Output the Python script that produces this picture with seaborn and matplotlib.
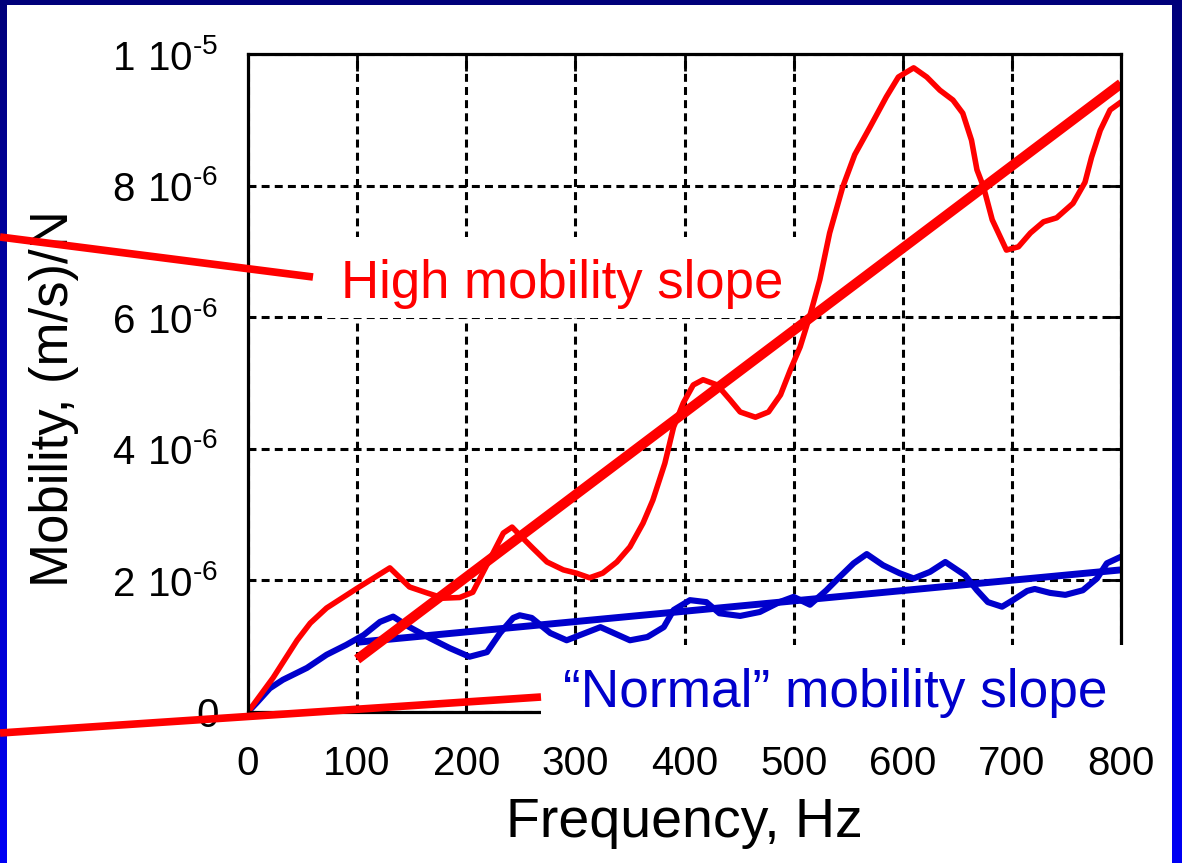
import numpy as np
import pandas as pd
import matplotlib
matplotlib.use("Agg")
import matplotlib.pyplot as plt
from matplotlib.patches import Rectangle
from matplotlib.lines import Line2D
import seaborn as sns

# measured mobility, frequency in Hz, mobility in 1e-6 (m/s)/N
high_freq = [0, 23, 45, 57, 72, 100, 130, 148, 164, 179, 194, 206, 215, 225,
             234, 242, 249, 261, 274, 289, 301, 313, 325, 338, 350, 362, 371,
             382, 390, 399, 408, 417, 430, 442, 451, 465, 477, 488, 497, 506,
             515, 524, 533, 545, 556, 570, 585, 596, 610, 622, 634, 646, 655,
             663, 668, 674, 682, 695, 706, 717, 729, 741, 756, 767, 773, 781,
             790, 800]
high_mob = [0, 0.52, 1.09, 1.35, 1.58, 1.88, 2.19, 1.90, 1.81, 1.73, 1.74,
            1.82, 2.11, 2.43, 2.72, 2.81, 2.69, 2.49, 2.28, 2.16, 2.11, 2.04,
            2.11, 2.28, 2.51, 2.87, 3.22, 3.78, 4.33, 4.70, 4.97, 5.05, 4.97,
            4.74, 4.56, 4.48, 4.56, 4.82, 5.20, 5.55, 6.03, 6.57, 7.28, 7.98,
            8.47, 8.89, 9.35, 9.65, 9.79, 9.65, 9.45, 9.30, 9.10, 8.69, 8.24,
            7.98, 7.48, 7.02, 7.07, 7.28, 7.45, 7.51, 7.73, 8.05, 8.43, 8.84,
            9.15, 9.27]

normal_freq = [0, 8, 20, 32, 54, 72, 90, 106, 121, 133, 148, 167, 185, 203,
               219, 231, 243, 249, 260, 277, 292, 323, 350, 366, 381, 390, 405,
               420, 432, 451, 469, 487, 500, 515, 530, 542, 555, 567, 582, 597,
               610, 625, 639, 657, 668, 678, 691, 701, 714, 721, 735, 749, 765,
               778, 787, 800]
normal_mob = [0, 0.14, 0.36, 0.49, 0.67, 0.87, 1.02, 1.17, 1.37, 1.45, 1.29,
              1.12, 0.97, 0.84, 0.91, 1.20, 1.43, 1.47, 1.43, 1.20, 1.09, 1.29,
              1.09, 1.14, 1.29, 1.55, 1.70, 1.67, 1.50, 1.46, 1.52, 1.67, 1.75,
              1.63, 1.85, 2.05, 2.26, 2.40, 2.23, 2.11, 2.03, 2.13, 2.28, 2.08,
              1.85, 1.67, 1.60, 1.70, 1.84, 1.87, 1.81, 1.78, 1.85, 2.03, 2.26,
              2.36]

# slope lines
fit_freq = [100, 800]
high_fit = [0.80, 9.55]
normal_fit = [1.06, 2.16]

x_ticks = [0, 100, 200, 300, 400, 500, 600, 700, 800]
y_ticks = [0, 2, 4, 6, 8, 10]
y_tick_labels = ["0",
                 r"$\mathregular{2\ 10^{\text{-}6}}$",
                 r"$\mathregular{4\ 10^{\text{-}6}}$",
                 r"$\mathregular{6\ 10^{\text{-}6}}$",
                 r"$\mathregular{8\ 10^{\text{-}6}}$",
                 r"$\mathregular{1\ 10^{\text{-}5}}$"]

RED = "#FF0000"
BLUE = "#0000CC"

sns.set_theme(style="white")
plt.rcParams["font.family"] = ["Liberation Sans", "DejaVu Sans"]
plt.rcParams["mathtext.fontset"] = "custom"
plt.rcParams["mathtext.rm"] = "Liberation Sans"

W, H = 1182, 863
fig = plt.figure(figsize=(W / 100, H / 100), dpi=100)


def fx(px):
    return px / W


def fy(py):
    return 1 - py / H


# slide background: blue gradient with white panel
bg = fig.add_axes([0, 0, 1, 1], zorder=-10)
grad = np.linspace(0, 1, 256).reshape(-1, 1)
bg.imshow(np.dstack([np.zeros_like(grad), np.zeros_like(grad),
                     0.48 + 0.48 * grad]),
          aspect="auto", extent=[0, 1, 0, 1], origin="upper")
bg.add_patch(Rectangle((fx(7), 0), fx(1172) - fx(7), fy(5),
                       facecolor="white", edgecolor="none"))
bg.set_xlim(0, 1)
bg.set_ylim(0, 1)
bg.axis("off")

ax = fig.add_axes([fx(248), fy(712), fx(1121) - fx(248), fy(54) - fy(712)])

high_df = pd.DataFrame({"freq": high_freq, "mob": high_mob})
normal_df = pd.DataFrame({"freq": normal_freq, "mob": normal_mob})
fit_df = pd.DataFrame({"freq": fit_freq, "high": high_fit, "normal": normal_fit})

sns.lineplot(data=fit_df, x="freq", y="normal", color=BLUE, linewidth=5.0,
             estimator=None, ax=ax, solid_capstyle="butt")
sns.lineplot(data=normal_df, x="freq", y="mob", color=BLUE, linewidth=4.4,
             estimator=None, ax=ax)
sns.lineplot(data=high_df, x="freq", y="mob", color=RED, linewidth=4.0,
             estimator=None, ax=ax)
sns.lineplot(data=fit_df, x="freq", y="high", color=RED, linewidth=7.2,
             estimator=None, ax=ax, solid_capstyle="butt")

ax.set_xlim(0, 800)
ax.set_ylim(0, 10)
ax.set_xticks(x_ticks)
ax.set_yticks(y_ticks)
ax.set_yticklabels(y_tick_labels)
ax.grid(True, color="black", linestyle=(0, (2.6, 1.7)), linewidth=2.2)
ax.set_axisbelow(True)
for s in ax.spines.values():
    s.set_color("black")
    s.set_linewidth(2.3)
ax.tick_params(axis="both", direction="in", length=12, width=2.0,
               top=True, right=True, colors="black", labelsize=29)
ax.tick_params(axis="y", pad=21)
ax.tick_params(axis="x", pad=24)

ax.set_xlabel("Frequency, Hz", fontsize=40, color="black")
ax.set_ylabel("Mobility, (m/s)/N", fontsize=38, color="black")
ax.xaxis.set_label_coords(0.5, (712 - 797) / 658)
ax.yaxis.set_label_coords((79 - 248) / 873, (712 - 399) / 658)

# white label boxes laid over the chart
fig.add_artist(Rectangle((fx(322), fy(318)), fx(800) - fx(322), fy(237) - fy(318),
                         transform=fig.transFigure, facecolor="white",
                         edgecolor="none", zorder=1))
fig.add_artist(Rectangle((fx(541), fy(722)), fx(1140) - fx(541), fy(645) - fy(722),
                         transform=fig.transFigure, facecolor="white",
                         edgecolor="none", zorder=1))

fig.text(fx(341), fy(298), "High mobility slope", color=RED, fontsize=38,
         ha="left", va="baseline", zorder=3)
fig.text(fx(563), fy(707), "\u201cNormal\u201d mobility slope", color=BLUE,
         fontsize=38.3, ha="left", va="baseline", zorder=3)

# pointer lines
fig.add_artist(Line2D([fx(0), fx(313)], [fy(237), fy(277)], color=RED, lw=5.5,
                      transform=fig.transFigure, solid_capstyle="butt", zorder=2))
fig.add_artist(Line2D([fx(0), fx(541)], [fy(733), fy(697)], color=RED, lw=5.5,
                      transform=fig.transFigure, solid_capstyle="butt", zorder=2))

fig.savefig("out.png", dpi=100)
